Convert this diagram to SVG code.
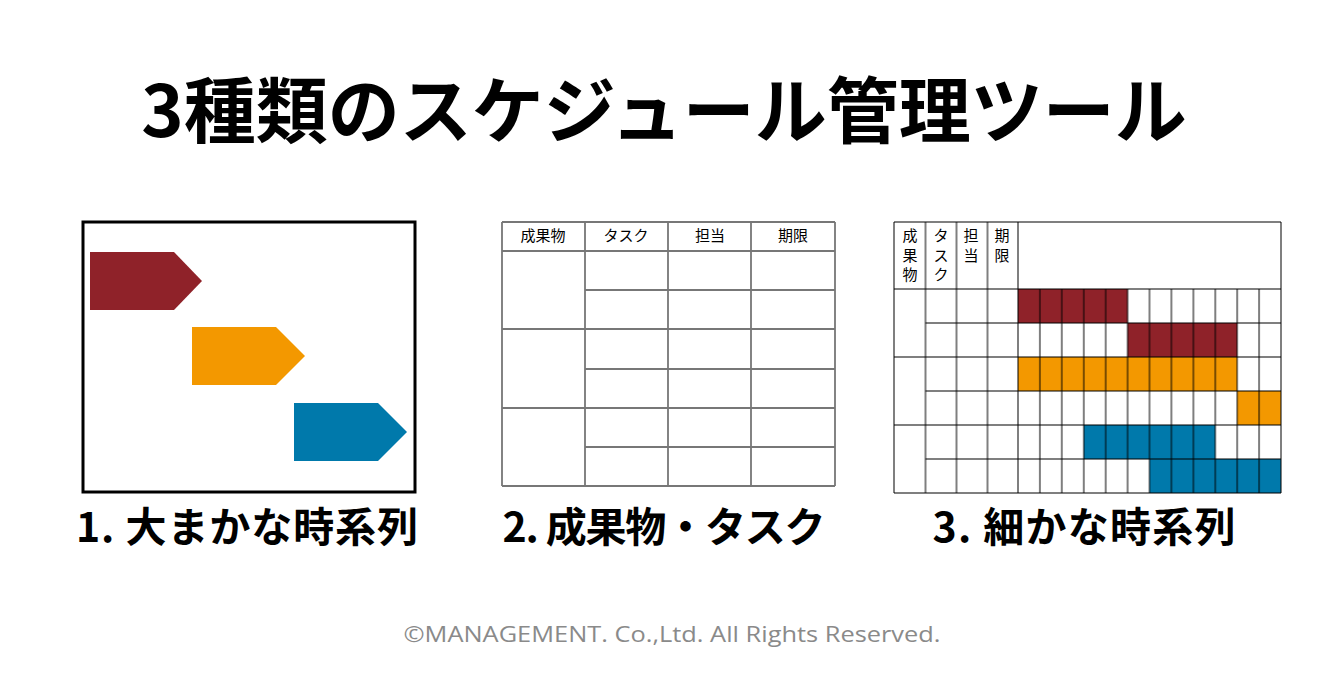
<svg xmlns="http://www.w3.org/2000/svg" width="1344" height="680" viewBox="0 0 1344 680">
<style>
.title{font-family:"Noto Sans CJK JP","Noto Sans",sans-serif;font-weight:700;fill:#000}
.lbl{font-family:"Noto Sans CJK JP","Noto Sans",sans-serif;font-weight:700;font-size:41px;fill:#000;text-anchor:middle}
.hd{font-family:"Noto Sans CJK JP",sans-serif;font-size:15px;fill:#000;text-anchor:middle}
.g2{stroke:#777;stroke-width:1.8;fill:none}
.g3{stroke:#000;stroke-opacity:0.5;stroke-width:2;fill:none}
.red{fill:#8f2229}.org{fill:#f39800}.blu{fill:#0079ab}
.copy{font-family:"Open Sans","Liberation Sans",sans-serif;font-size:22px;fill:#8a8a8a;text-anchor:middle}
</style>
<rect width="1344" height="680" fill="#fff"/>
<text class="title" x="664" y="137" font-size="72" text-anchor="middle">3種類のスケジュール管理ツール</text>

<g id="panel1">
<rect x="83" y="222" width="332" height="270" fill="#fff" stroke="#000" stroke-width="3"/>
<polygon class="red" points="90,252 174,252 202,281 174,310 90,310"/>
<polygon class="org" points="192,327 276,327 305,356 276,385 192,385"/>
<polygon class="blu" points="294,403 378,403 407,432 378,461 294,461"/>
</g>
<text id="label1" class="lbl" x="247" y="542" textLength="342" lengthAdjust="spacing">1. 大まかな時系列</text>

<g id="panel2">
<g class="g2">
<path d="M502,222H835M502,251H835M502,329H835M502,408H835M502,486H835M585,290H835M585,369H835M585,447H835"/>
<path d="M502,222V486M585,222V486M668,222V486M751,222V486M835,222V486"/>
</g>
<text class="hd" x="543" y="241">成果物</text>
<text class="hd" x="626" y="241">タスク</text>
<text class="hd" x="710" y="241">担当</text>
<text class="hd" x="793" y="241">期限</text>
</g>
<text id="label2" class="lbl" x="664" y="542" textLength="323" lengthAdjust="spacing">2. 成果物・タスク</text>

<g id="panel3">
<rect class="red" x="1018" y="289" width="109.6" height="34"/>
<rect class="red" x="1127.6" y="323" width="109.6" height="34"/>
<rect class="org" x="1018" y="357" width="219.2" height="34"/>
<rect class="org" x="1237.2" y="391" width="43.8" height="34"/>
<rect class="blu" x="1083.8" y="425" width="131.5" height="34"/>
<rect class="blu" x="1149.5" y="459" width="131.5" height="34"/>
<g class="g3">
<path d="M894,222H1281M894,289H1281M894,357H1281M894,425H1281M894,493H1281M925.5,323H1281M925.5,391H1281M925.5,459H1281"/>
<path d="M894,222V493M925.5,222V493M956.5,222V493M987.5,222V493M1018,222V493M1281,222V493"/>
<path d="M1039.9,289V493M1061.8,289V493M1083.8,289V493M1105.7,289V493M1127.6,289V493M1149.5,289V493M1171.4,289V493M1193.4,289V493M1215.3,289V493M1237.2,289V493M1259.1,289V493"/>
</g>
<text class="hd"><tspan x="910" y="241">成</tspan><tspan x="910" y="260.5">果</tspan><tspan x="910" y="280">物</tspan></text>
<text class="hd"><tspan x="941" y="241">タ</tspan><tspan x="941" y="260.5">ス</tspan><tspan x="941" y="280">ク</tspan></text>
<text class="hd"><tspan x="971" y="241">担</tspan><tspan x="971" y="260.5">当</tspan></text>
<text class="hd"><tspan x="1002" y="241">期</tspan><tspan x="1002" y="260.5">限</tspan></text>
</g>
<text id="label3" class="lbl" x="1084" y="542" textLength="303" lengthAdjust="spacing">3. 細かな時系列</text>

<text class="copy" x="672" y="642" textLength="537" lengthAdjust="spacingAndGlyphs">©MANAGEMENT. Co.,Ltd. All Rights Reserved.</text>
</svg>
